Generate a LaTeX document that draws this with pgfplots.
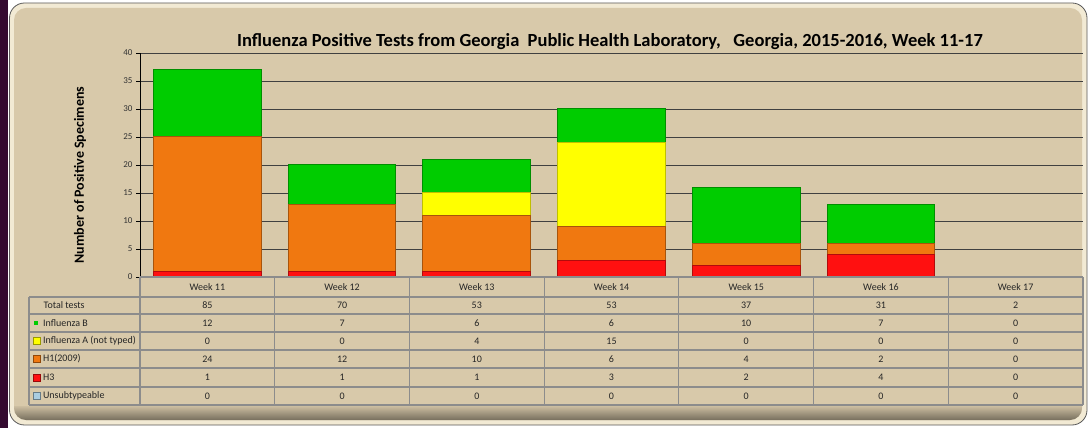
\documentclass[border=0pt]{standalone}
\usepackage{pgfplots}
\pgfplotsset{compat=1.18}
\usepackage{fontspec}
\setmainfont{Carlito}
\definecolor{bg}{RGB}{216,201,170}
\definecolor{edgecream}{RGB}{242,234,212}
\definecolor{outerpurple}{RGB}{52,10,48}
\definecolor{cB}{RGB}{0,204,0}
\definecolor{cA}{RGB}{255,255,0}
\definecolor{cH1}{RGB}{240,120,16}
\definecolor{cH3}{RGB}{255,16,16}
\definecolor{cU}{RGB}{170,205,225}
\definecolor{tgrid}{RGB}{140,140,140}
\begin{document}
\begin{tikzpicture}[x=1pt,y=1pt]
% background
\fill[white] (0,0) rectangle (1091,428);
\fill[outerpurple] (0,0) rectangle (8,428);
\draw[rounded corners=15pt, draw=black!65, line width=0.8pt, fill=edgecream] (9.5,3) rectangle (1087,425);
\fill[rounded corners=12pt, bg] (14,8) rectangle (1082,420);
\shade[top color=bg, bottom color=bg!55!black] (14,24) [rounded corners=12pt]-- (14,8) -- (1082,8) [sharp corners]-- (1082,24) -- cycle;
\fill[bg] (14,22) rectangle (1082,24);
% title
\node[font=\fontsize{18.5}{22}\selectfont\bfseries, anchor=base] at (610,381) {Influenza Positive Tests from Georgia\ \ Public Health Laboratory,\ \ \ Georgia, 2015-2016, Week 11-17};
% y label
\node[font=\fontsize{14}{16}\selectfont\bfseries, rotate=90] at (80,253) {Number of Positive Specimens};
\begin{axis}[
  at={(140pt,151pt)}, anchor=south west,
  scale only axis, width=943pt, height=224pt,
  ybar stacked, bar width=0.8,
  xmin=-0.5, xmax=6.5, ymin=0, ymax=40,
  ytick={0,5,...,40}, xtick=\empty,
  axis lines=left, axis line style={-, black, line width=0.8pt},
  ymajorgrids, grid style={black!75, line width=0.7pt},
  tick align=outside, major tick length=4pt,
  tick style={black, line width=0.6pt},
  yticklabel style={font=\fontsize{9}{10}\selectfont, text=black!80},
  /pgf/number format/assume math mode=true,
  clip=false,
]
\addplot[fill=cU, draw=none] coordinates {(0,0) (1,0) (2,0) (3,0) (4,0) (5,0) (6,0)};
\addplot[fill=cH3, draw=cH3!70!black, line width=1pt] coordinates {(0,1) (1,1) (2,1) (3,3) (4,2) (5,4) (6,0)};
\addplot[fill=cH1, draw=cH1!70!black, line width=1pt] coordinates {(0,24) (1,12) (2,10) (3,6) (4,4) (5,2) (6,0)};
\addplot[fill=cA, draw=cA!75!black, line width=1pt] coordinates {(0,0) (1,0) (2,4) (3,15) (4,0) (5,0) (6,0)};
\addplot[fill=cB, draw=cB!70!black, line width=1pt] coordinates {(0,12) (1,7) (2,6) (3,6) (4,10) (5,7) (6,0)};
\end{axis}
% data table
\begin{scope}[draw=tgrid, line width=1.2pt]
\fill[bg] (950,149) rectangle (1080,153.2);
\foreach \k in {0,...,7} { \draw (140+\k*134.714,151) -- (140+\k*134.714,23); }
\draw (140,151) -- (1083,151);
\foreach \yy in {131,114,96,78,60,41,23} { \draw (29,\yy) -- (1083,\yy); }
\draw (29,131) -- (29,23);
\end{scope}
\begin{scope}[font=\fontsize{10}{12}\selectfont, text=black!85]
\foreach \w [count=\i from 0] in {11,...,17} { \node at (207.36+\i*134.714,141) {Week \w}; }
\node[anchor=west] at (40,122.5) {Total tests};
\fill[cB] (33.5,103) rectangle (37.5,107);
\node[anchor=west] at (39.5,105) {Influenza B};
\fill[cA] (33,83.5) rectangle (40,90.5); \draw[cA!60!black, line width=0.4pt] (33,83.5) rectangle (40,90.5);
\node[anchor=west] at (39.5,87) {Influenza A (not typed)};
\fill[cH1] (33,65.5) rectangle (40,72.5); \draw[cH1!60!black, line width=0.4pt] (33,65.5) rectangle (40,72.5);
\node[anchor=west] at (39.5,69) {H1(2009)};
\fill[cH3] (33,47) rectangle (40,54); \draw[cH3!60!black, line width=0.4pt] (33,47) rectangle (40,54);
\node[anchor=west] at (39.5,50.5) {H3};
\fill[cU] (33,28.5) rectangle (40,35.5); \draw[cU!60!black, line width=0.4pt] (33,28.5) rectangle (40,35.5);
\node[anchor=west] at (39.5,32) {Unsubtypeable};
\foreach \v [count=\i from 0] in {85,70,53,53,37,31,2} { \node at (207.36+\i*134.714,122.5) {\v}; }
\foreach \v [count=\i from 0] in {12,7,6,6,10,7,0} { \node at (207.36+\i*134.714,105) {\v}; }
\foreach \v [count=\i from 0] in {0,0,4,15,0,0,0} { \node at (207.36+\i*134.714,87) {\v}; }
\foreach \v [count=\i from 0] in {24,12,10,6,4,2,0} { \node at (207.36+\i*134.714,69) {\v}; }
\foreach \v [count=\i from 0] in {1,1,1,3,2,4,0} { \node at (207.36+\i*134.714,50.5) {\v}; }
\foreach \v [count=\i from 0] in {0,0,0,0,0,0,0} { \node at (207.36+\i*134.714,32) {\v}; }
\end{scope}
\end{tikzpicture}
\end{document}
